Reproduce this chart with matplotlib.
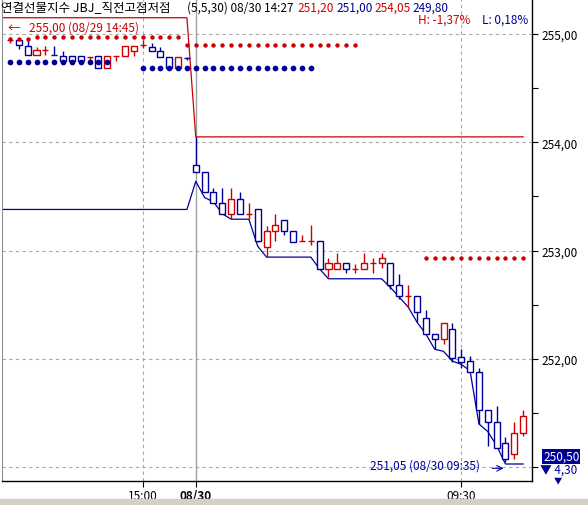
import numpy as np
import matplotlib.pyplot as plt
from matplotlib.patches import Rectangle

plt.rcParams['font.family'] = ['Noto Sans CJK KR', 'DejaVu Sans']

RED = '#cc0000'
BLUE = '#000099'
GRID = '#a8a8a8'

# 1-minute candles, 08/29 14:45 ... 08/30 09:37
opens = [254.945, 254.945, 254.89, 254.81, 254.85, 254.81, 254.80, 254.80, 254.80, 254.79,
         254.80, 254.69, 254.80, 254.80, 254.845, 254.895, 254.88, 254.84, 254.79, 254.69,
         254.78, 253.79, 253.73, 253.54, 253.44, 253.34, 253.48, 253.34, 253.38, 253.03,
         253.18, 253.28, 253.18, 253.09, 253.09, 253.09, 252.83, 252.83, 252.89, 252.83,
         252.83, 252.89, 252.89, 252.89, 252.68, 252.58, 252.58, 252.38, 252.23, 252.18,
         252.28, 252.02, 251.98, 251.88, 251.53, 251.42, 251.22, 251.12, 251.32]
highs = [254.97, 254.945, 254.94, 254.88, 254.89, 254.89, 254.84, 254.80, 254.80, 254.79,
         254.80, 254.80, 254.80, 254.89, 254.89, 254.94, 254.92, 254.88, 254.79, 254.79,
         254.79, 254.05, 253.73, 253.58, 253.58, 253.58, 253.54, 253.44, 253.38, 253.23,
         253.34, 253.28, 253.18, 253.14, 253.24, 253.09, 252.93, 252.98, 252.89, 252.88,
         252.98, 252.93, 252.98, 252.89, 252.78, 252.68, 252.58, 252.45, 252.23, 252.33,
         252.33, 252.09, 252.03, 251.92, 251.53, 251.57, 251.28, 251.42, 251.53]
lows = [254.92, 254.86, 254.81, 254.81, 254.81, 254.81, 254.75, 254.75, 254.75, 254.74,
        254.69, 254.69, 254.75, 254.80, 254.80, 254.87, 254.84, 254.79, 254.69, 254.69,
        254.76, 253.73, 253.54, 253.44, 253.34, 253.29, 253.34, 253.29, 253.08, 252.94,
        253.09, 253.14, 253.08, 253.09, 253.05, 252.83, 252.76, 252.83, 252.79, 252.79,
        252.83, 252.79, 252.84, 252.65, 252.55, 252.48, 252.34, 252.23, 252.09, 252.14,
        251.97, 251.92, 251.88, 251.40, 251.20, 251.18, 251.05, 251.08, 251.29]
closes = [254.945, 254.90, 254.81, 254.85, 254.85, 254.81, 254.75, 254.75, 254.75, 254.79,
          254.69, 254.80, 254.80, 254.89, 254.89, 254.895, 254.84, 254.79, 254.69, 254.79,
          254.78, 253.73, 253.54, 253.44, 253.34, 253.48, 253.34, 253.34, 253.09, 253.18,
          253.24, 253.18, 253.08, 253.09, 253.09, 252.83, 252.89, 252.89, 252.83, 252.83,
          252.89, 252.89, 252.93, 252.68, 252.58, 252.58, 252.43, 252.23, 252.18, 252.33,
          252.01, 251.97, 251.88, 251.53, 251.42, 251.18, 251.08, 251.32, 251.47]

# high / low lines, starting one bar left of the first candle
high_line = [255.15, 255.15, 255.15, 255.15, 255.15, 255.15, 255.15, 255.15, 255.15, 255.15,
             255.15, 255.15, 255.15, 255.15, 255.15, 255.15, 255.15, 255.15, 255.15, 255.15,
             255.15, 255.15, 254.05, 254.05, 254.05, 254.05, 254.05, 254.05, 254.05, 254.05,
             254.05, 254.05, 254.05, 254.05, 254.05, 254.05, 254.05, 254.05, 254.05, 254.05,
             254.05, 254.05, 254.05, 254.05, 254.05, 254.05, 254.05, 254.05, 254.05, 254.05,
             254.05, 254.05, 254.05, 254.05, 254.05, 254.05, 254.05, 254.05, 254.05, 254.05]
low_line = [253.38, 253.38, 253.38, 253.38, 253.38, 253.38, 253.38, 253.38, 253.38, 253.38,
            253.38, 253.38, 253.38, 253.38, 253.38, 253.38, 253.38, 253.38, 253.38, 253.38,
            253.38, 253.38, 253.64, 253.49, 253.45, 253.34, 253.29, 253.29, 253.29, 253.04,
            252.94, 252.94, 252.94, 252.94, 252.94, 252.94, 252.83, 252.74, 252.74, 252.74,
            252.74, 252.74, 252.74, 252.74, 252.66, 252.57, 252.48, 252.34, 252.23, 252.09,
            252.07, 251.98, 251.95, 251.89, 251.40, 251.33, 251.20, 251.03, 251.03, 251.03]

# previous high / low dotted levels: (first bar, last bar, level)
red_dots = [(0, 2, 254.95), (3, 19, 254.97), (20, 39, 254.90), (47, 58, 252.93)]
blue_dots = [(0, 11, 254.74), (15, 34, 254.69)]

tick_pos = [15, 21, 51]
tick_labels = ['15:00', '08/30', '09:30']

W, H = 588, 506
fig = plt.figure(figsize=(W / 100, H / 100), dpi=100)
ax = fig.add_axes([2 / W, 24 / H, 530 / W, 482 / H])
ax.set_xlim(-0.9, 59.0)
ax.set_ylim(250.873, 255.323)

# grid
for v in [251, 252, 253, 254, 255]:
    ax.axhline(v, color=GRID, lw=0.8, ls=(0, (3, 3)), zorder=0)
ax.axvline(15, color=GRID, lw=0.8, ls=(0, (3, 3)), zorder=0)
ax.axvline(51, color=GRID, lw=0.8, ls=(0, (3, 3)), zorder=0)
ax.axvline(21, color='#a0a0a0', lw=1.0, zorder=0)

# lines
line_x = np.arange(len(high_line)) - 1
ax.plot(line_x, high_line, color=RED, lw=0.9, zorder=2)
ax.plot(line_x, low_line, color=BLUE, lw=0.9, zorder=2)

for a, b, v in red_dots:
    xs = np.arange(a, b + 1)
    ax.scatter(xs, np.full(len(xs), v), s=10, color=RED, zorder=5, linewidths=0)
for a, b, v in blue_dots:
    xs = np.arange(a, b + 1)
    ax.scatter(xs, np.full(len(xs), v), s=17, color=BLUE, zorder=5, linewidths=0)

# candles
o = np.array(opens)
c = np.array(closes)
idx = np.arange(len(o))
prev = np.concatenate([[c[0]], c[:-1]])
up = (c > o) | ((c == o) & (c >= prev))
cols = [RED if u else BLUE for u in up]
ax.vlines(idx, lows, highs, colors=cols, lw=1.0, zorder=3)
ax.bar(idx, c - o, bottom=o, width=0.68, facecolor='white', edgecolor=cols, lw=1.0, zorder=4)

# high / low labels
ax.text(-0.25, 255.065, '\u2190', color=RED, fontsize=9, va='center')
ax.text(2.2, 255.065, '255,00 (08/29 14:45)', color=RED, fontsize=8.5, va='center')
lo = int(np.argmin(lows))
ax.text(40.7, lows[lo] - 0.03, f'{lows[lo]:.2f} (08/30 09:35)'.replace('.', ','),
        color=BLUE, fontsize=8.5, va='center')
ax.annotate('', xy=(lo + 0.1, lows[lo] - 0.06), xytext=(lo - 1.8, lows[lo] - 0.06),
            arrowprops=dict(arrowstyle='->', color=BLUE, lw=0.8))

# axes style
ax.yaxis.tick_right()
ax.set_yticks([252, 253, 254, 255])
ax.set_yticklabels([f'{v:.2f}'.replace('.', ',') for v in [252, 253, 254, 255]], fontsize=8.5)
ax.set_yticks([251, 251.5, 252.5, 253.5, 254.5], minor=True)
ax.tick_params(axis='y', which='both', direction='out', length=4, width=0.8, pad=3)
ax.set_xticks(tick_pos)
ax.set_xticklabels(tick_labels, fontsize=8.5)
ax.get_xticklabels()[1].set_fontweight('bold')
ax.tick_params(axis='x', direction='out', length=4, width=0.8, pad=2)
for s in ['right', 'bottom']:
    ax.spines[s].set_color('black')
    ax.spines[s].set_linewidth(1.0)
ax.spines['top'].set_visible(False)
ax.spines['left'].set_color('#909090')


# header
def ftext(x, y, s, color='black', size=8.5, **kw):
    fig.text(x / W, 1 - y / H, s, color=color, fontsize=size, va='center', **kw)


ftext(1, 8, '연결선물지수 JBJ_직전고점저점', size=9)
ftext(187, 8, '(5,5,30) 08/30 14:27')
ftext(297, 8, '251,20', RED)
ftext(336, 8, '251,00', BLUE)
ftext(374, 8, '254,05', RED)
ftext(412, 8, '249,80', BLUE)
ftext(418, 20, 'H: -1,37%', RED)
ftext(482, 20, 'L: 0,18%', BLUE)

# current price box
ftext(543, 457.5, '250,50', 'white', bbox=dict(facecolor=BLUE, edgecolor='none', pad=0.6))
ftext(540, 470, '\u25bc 4,30', BLUE)
ftext(554, 481, '\u25bc', BLUE, size=6)

fig.patches.append(Rectangle((0, 0), 1, 6 / H, transform=fig.transFigure, color='#d4d0c8', zorder=0))

fig.savefig('out.png', dpi=100)
